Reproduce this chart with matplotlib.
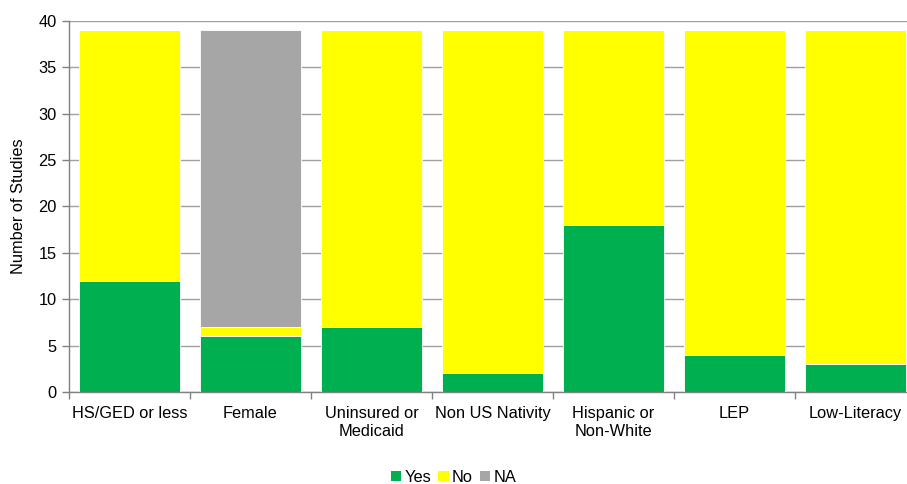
import numpy as np
import matplotlib
matplotlib.use('Agg')
import matplotlib.pyplot as plt
from matplotlib.patches import Patch

plt.rcParams['font.family'] = ['Liberation Sans', 'DejaVu Sans']

# Data
categories = ['HS/GED or less', 'Female', 'Uninsured or\nMedicaid', 'Non US Nativity',
              'Hispanic or\nNon-White', 'LEP', 'Low-Literacy']
yes_vals = [12, 6, 7, 2, 18, 4, 3]
no_vals = [27, 1, 32, 37, 21, 35, 36]
na_vals = [0, 32, 0, 0, 0, 0, 0]

colors = {'Yes': '#00B050', 'No': '#FFFF00', 'NA': '#A6A6A6'}

fig = plt.figure(figsize=(9.07, 4.84), dpi=100)
ax = fig.add_axes([0.076, 0.19, 0.934, 0.767])

x = np.arange(len(categories))
yes = np.array(yes_vals)
no = np.array(no_vals)
na = np.array(na_vals)

w = 0.835
ax.bar(x, yes, w, color=colors['Yes'], edgecolor='white', linewidth=0.6, zorder=3)
ax.bar(x, no, w, bottom=yes, color=colors['No'], edgecolor='white', linewidth=0.6, zorder=3)
ax.bar(x, na, w, bottom=yes + no, color=colors['NA'], edgecolor='white', linewidth=0.6, zorder=3)

ax.set_xlim(-0.5, len(categories) - 0.5)
ax.set_ylim(0, 40)
ax.set_yticks(range(0, 41, 5))
ax.yaxis.grid(True, color='#A0A0A0', linewidth=1.0, zorder=0)
ax.set_axisbelow(True)

fs = 11.8
# category labels centered, ticks between categories
ax.set_xticks(x)
ax.set_xticklabels(categories, fontsize=fs, va='top', linespacing=1.25)
ax.tick_params(axis='x', length=0, pad=10)
ax.set_xticks(np.arange(-0.5, len(categories)), minor=True)
ax.tick_params(axis='x', which='minor', length=5, color='#808080', width=1)
ax.tick_params(axis='y', length=5, color='#808080', width=1, labelsize=fs, pad=4)

for side in ['top', 'right']:
    ax.spines[side].set_visible(False)
for side in ['left', 'bottom']:
    ax.spines[side].set_color('#808080')
    ax.spines[side].set_linewidth(1)

ax.set_ylabel('Number of Studies', fontsize=fs, labelpad=9)

handles = [Patch(facecolor=colors[k], label=k) for k in ['Yes', 'No', 'NA']]
fig.legend(handles=handles, loc='lower center', bbox_to_anchor=(0.5, -0.032), ncol=3,
           frameon=False, fontsize=fs, handlelength=0.65, handleheight=0.65,
           handletextpad=0.2, columnspacing=0.4)

fig.savefig('out.png', dpi=100)
